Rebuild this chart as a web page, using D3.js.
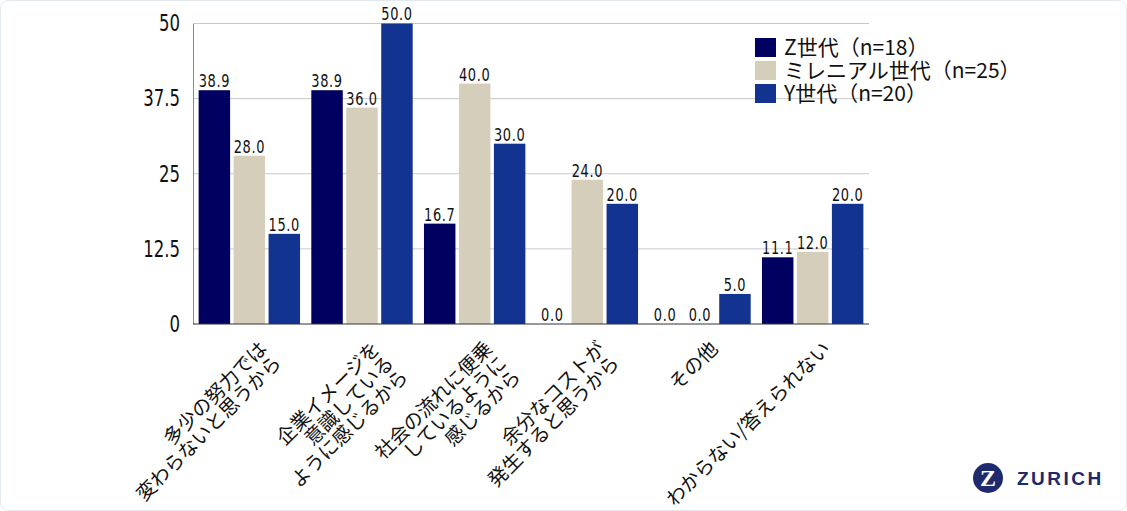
<!DOCTYPE html>
<meta charset="utf-8">
<title>Z世代・ミレニアル世代・Y世代</title>
<style>
    body { margin: 0; background: #fff; }
    .grid line { stroke: #c9c9c9; stroke-width: 1px; }
    .val { font-family: "DejaVu Sans Condensed", "Liberation Sans Narrow", sans-serif; font-size: 18px; letter-spacing: 0.8px; fill: #111; }
    .ytick { font-family: "DejaVu Sans Condensed", "Liberation Sans Narrow", sans-serif; font-size: 23px; fill: #111; }
    .cat, .legend text { font-family: "Noto Sans CJK JP", sans-serif; fill: #111; }
</style>
<body>
<div id="chart"></div>
<script src="https://d3js.org/d3.v7.min.js"></script>
<script>
// data
var categories = [
    ["多少の努力では", "変わらないと思うから"],
    ["企業イメージを", "意識している", "ように感じるから"],
    ["社会の流れに便乗", "しているように", "感じるから"],
    ["余分なコストが", "発生すると思うから"],
    ["その他"],
    ["わからない/答えられない"]
];
var seriesNames = ["Z世代（n=18）", "ミレニアル世代（n=25）", "Y世代（n=20）"];
var genZ = [38.9, 38.9, 16.7, 0.0, 0.0, 11.1];
var millennial = [28.0, 36.0, 40.0, 24.0, 0.0, 12.0];
var genY = [15.0, 50.0, 30.0, 20.0, 5.0, 20.0];
var yTicks = [0, 12.5, 25, 37.5, 50];

var colors = ["#000060", "#d4cebb", "#12338f"];
var series = [genZ, millennial, genY];

var W = 1127, H = 511;
var plotLeft = 193, plotRight = 869, plotTop = 23.5, plotBottom = 324;
var squeeze = 0.8; // narrow look of the number font

var svg = d3.select("#chart").append("svg")
    .attr("width", W)
    .attr("height", H);

// faint frame
svg.append("rect")
    .attr("x", 0.5).attr("y", 0.5)
    .attr("width", W - 1).attr("height", H - 1)
    .attr("rx", 8)
    .attr("fill", "#fff")
    .attr("stroke", "#e4e9ef");

var x0 = d3.scaleBand()
    .domain(d3.range(categories.length))
    .range([plotLeft, plotRight])
    .paddingInner(0.1)
    .paddingOuter(0.05);

var x1 = d3.scaleBand()
    .domain(d3.range(series.length))
    .range([0, x0.bandwidth()])
    .paddingInner(0.1);

var y = d3.scaleLinear().domain([0, 50]).range([plotBottom, plotTop]);

// gridlines
svg.append("g")
    .attr("class", "grid")
    .selectAll("line")
    .data(yTicks.filter(function (d) { return d > 0; }))
    .enter().append("line")
    .attr("x1", plotLeft).attr("x2", plotRight)
    .attr("y1", function (d) { return y(d); })
    .attr("y2", function (d) { return y(d); });

// y axis
var yAxis = svg.append("g")
    .attr("transform", "translate(" + plotLeft + ",0)")
    .call(d3.axisLeft(y).tickValues(yTicks).tickSize(0).tickPadding(13)
        .tickFormat(function (d) { return d; }));
yAxis.select(".domain").attr("stroke", "#8a8a8a");
yAxis.selectAll("text")
    .attr("class", "ytick")
    .attr("font-family", null).attr("font-size", null)
    .attr("x", -13 / squeeze)
    .attr("transform", "scale(" + squeeze + ",1)");

// bars
var groups = svg.append("g").selectAll("g")
    .data(categories)
    .enter().append("g")
    .attr("transform", function (d, i) { return "translate(" + x0(i) + ",0)"; });

groups.selectAll("rect")
    .data(function (d, i) { return series.map(function (s, k) { return { k: k, v: s[i] }; }); })
    .enter().append("rect")
    .attr("x", function (d) { return x1(d.k); })
    .attr("width", x1.bandwidth())
    .attr("y", function (d) { return y(d.v); })
    .attr("height", function (d) { return y(0) - y(d.v); })
    .attr("fill", function (d) { return colors[d.k]; });

groups.selectAll("text")
    .data(function (d, i) { return series.map(function (s, k) { return { k: k, v: s[i] }; }); })
    .enter().append("text")
    .attr("class", "val")
    .attr("text-anchor", "middle")
    .attr("transform", "scale(" + squeeze + ",1)")
    .attr("x", function (d) { return (x1(d.k) + x1.bandwidth() / 2) / squeeze; })
    .attr("y", function (d) { return y(d.v) - 3; })
    .text(function (d) { return d3.format(".1f")(d.v); });

// baseline
svg.append("line")
    .attr("x1", plotLeft).attr("x2", plotRight)
    .attr("y1", plotBottom).attr("y2", plotBottom)
    .attr("stroke", "#333");

// category labels, rotated -45, right aligned
var catFont = 19.5, lineH = 20;
var cats = svg.append("g").selectAll("text")
    .data(categories)
    .enter().append("text")
    .attr("class", "cat")
    .attr("font-size", catFont)
    .attr("text-anchor", "end")
    .attr("transform", function (d, i) {
        return "translate(" + (x0(i) + x0.bandwidth() / 2 + 19) + ",350) rotate(-45)";
    });
cats.selectAll("tspan")
    .data(function (d) { return d; })
    .enter().append("tspan")
    .attr("x", 0)
    .attr("dy", function (d, j) { return j === 0 ? 0 : lineH; })
    .text(function (d) { return d; });

// legend
var legend = svg.append("g")
    .attr("class", "legend")
    .attr("transform", "translate(755,38)");
var li = legend.selectAll("g")
    .data(seriesNames)
    .enter().append("g")
    .attr("transform", function (d, i) { return "translate(0," + (i * 23) + ")"; });
li.append("rect")
    .attr("width", 21).attr("height", 19)
    .attr("fill", function (d, i) { return colors[i]; });
li.append("text")
    .attr("x", 29).attr("y", 17)
    .attr("font-size", 21)
    .text(function (d) { return d; });

// logo
var logo = svg.append("g").attr("transform", "translate(988,478)");
logo.append("circle").attr("r", 15).attr("fill", "#1e2a6e");
logo.append("text")
    .attr("text-anchor", "middle")
    .attr("y", 8)
    .attr("font-family", "Liberation Serif, serif")
    .attr("font-weight", "bold")
    .attr("font-size", 24)
    .attr("fill", "#fff")
    .text("Z");
svg.append("text")
    .attr("x", 1017).attr("y", 485)
    .attr("font-family", "Liberation Sans, sans-serif")
    .attr("font-weight", "bold")
    .attr("font-size", 19)
    .attr("letter-spacing", 2.5)
    .attr("fill", "#1e2a6e")
    .text("ZURICH");
</script>
</body>
